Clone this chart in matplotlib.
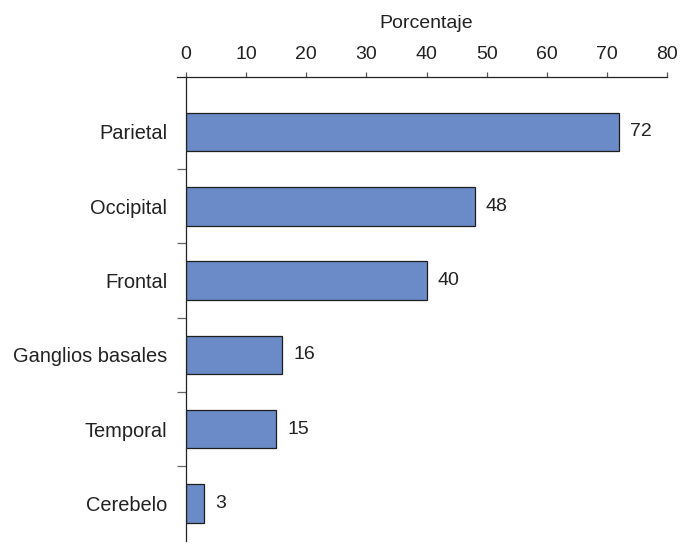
import matplotlib
matplotlib.use("Agg")
import matplotlib.pyplot as plt

categories = ["Parietal", "Occipital", "Frontal", "Ganglios basales", "Temporal", "Cerebelo"]
values = [72, 48, 40, 16, 15, 3]
xticks = [0, 10, 20, 30, 40, 50, 60, 70, 80]

plt.rcParams['font.family'] = ['Liberation Sans', 'DejaVu Sans']

fig = plt.figure(figsize=(6.86, 5.46), dpi=100)
ax = fig.add_axes([186/686, 1-541/546, (667-186)/686, (541-77)/546])

pos = list(range(len(categories)))
ax.barh(pos, values, height=0.52, color="#6A8BC7", edgecolor="#1e1e1e", linewidth=0.9, zorder=2)

ax.set_xlim(0, 80)
ax.set_ylim(5.505, -0.74)

ax.xaxis.tick_top()
ax.xaxis.set_label_position('top')
ax.set_xticks(xticks)
ax.set_xticklabels([str(t) for t in xticks], fontsize=14, color="#222222")
ax.tick_params(axis='x', direction='out', length=3.8, width=0.9, color="#555555", pad=6.0)
ax.set_xlabel("Porcentaje", fontsize=14, color="#222222", labelpad=13)

# y ticks at category boundaries, labels at centers
ax.set_yticks([p + 0.5 for p in pos[:-1]])
ax.set_yticklabels([])
ax.set_yticks(pos, minor=True)
ax.set_yticklabels(categories, minor=True, fontsize=14.4, color="#222222")
ax.tick_params(axis='y', which='major', direction='out', length=6.6, width=0.9, color="#666666")
ax.tick_params(axis='y', which='minor', length=0, pad=13.5)

for s in ['right', 'bottom']:
    ax.spines[s].set_visible(False)
ax.spines['top'].set_color("#222222")
ax.spines['left'].set_color("#222222")
ax.spines['top'].set_linewidth(0.9)
ax.spines['left'].set_linewidth(0.9)
ax.spines['top'].set_bounds(-1.55, 80)

for p, v in zip(pos, values):
    ax.annotate(str(v), xy=(v, p), xytext=(8, 0), textcoords='offset points',
                va='center', ha='left', fontsize=14, color="#222222")

fig.savefig("out.png", dpi=100)
